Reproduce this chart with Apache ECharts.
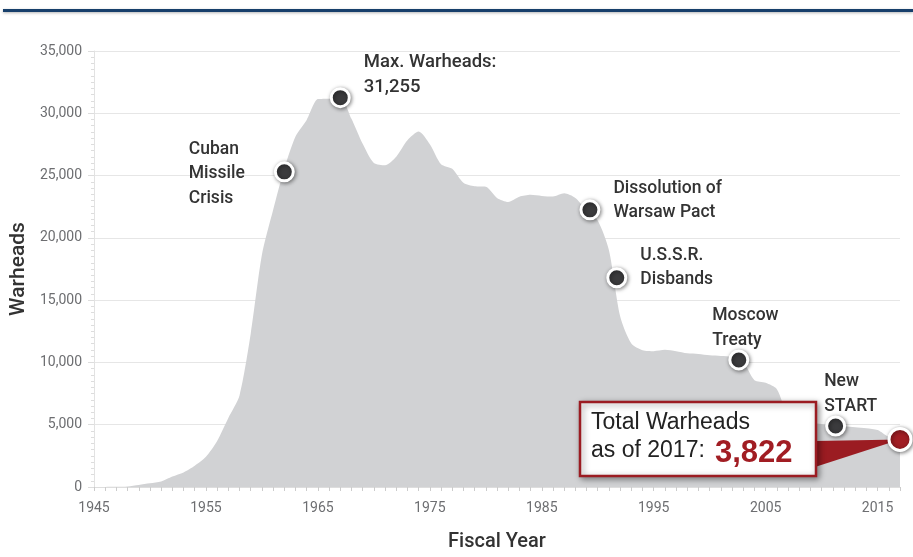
<!DOCTYPE html>
<html><head><meta charset="utf-8">
<script src="https://cdn.jsdelivr.net/npm/echarts@6/dist/echarts.min.js"></script>
<style>html,body{margin:0;padding:0;background:#fff}#c{width:913px;height:557px}</style>
</head><body><div id="c"></div>
<script>
const years = [1945,1946,1947,1948,1949,1950,1951,1952,1953,1954,1955,1956,1957,1958,1959,1960,1961,1962,1963,1964,1965,1966,1967,1968,1969,1970,1971,1972,1973,1974,1975,1976,1977,1978,1979,1980,1981,1982,1983,1984,1985,1986,1987,1988,1989,1990,1991,1992,1993,1994,1995,1996,1997,1998,1999,2000,2001,2002,2003,2004,2005,2006,2007,2008,2009,2010,2011,2012,2013,2014,2015,2016,2017];
const warheads = [2,9,13,50,170,299,438,841,1169,1703,2422,3692,5543,7345,12298,18638,22229,25540,28133,29463,31139,31175,31255,29561,27552,26008,25830,26516,27835,28537,27519,25914,25542,24418,24138,24104,23208,22886,23305,23459,23368,23317,23575,23205,22217,21392,19008,13708,11511,10979,10904,11011,10903,10732,10685,10577,10526,10457,10027,8570,8360,7853,5709,5273,5113,5066,4897,4881,4804,4717,4571,4018,3822];
const eventNames = ['Cuban\nMissile\nCrisis','Max. Warheads:\n31,255','Dissolution of\nWarsaw Pact','U.S.S.R.\nDisbands','Moscow\nTreaty','New\nSTART'];
const eventYears = [1962,1967,1989.3,1991.7,2002.6,2011.25];
const eventValues = [25300,31255,22250,16800,10200,4900];
const latestYear = 2017;
const latestValue = 3822;
const yTicks = [0,5000,10000,15000,20000,25000,30000,35000];
const xTicks = [1945,1955,1965,1975,1985,1995,2005,2015];

const NARROW = "'Liberation Sans Narrow','Roboto','Noto Sans',sans-serif";
const SANS = "'Liberation Sans','Roboto',sans-serif";
// label offsets (layout only)
const labelPos = [[-85,-24],[34,-37],[34,-23],[34,-24],[-16,-46],[-1,-46]];
const labelSizes = [17.5,18.5,17.5,17.5,17.5,17.5];

const chart = echarts.init(document.getElementById('c'));
const fmt = v => String(v).replace(/\B(?=(\d{3})+(?!\d))/g, ',');
const option = {
  animation:false,
  grid:{left:91,right:13,top:51,bottom:70,containLabel:false},
  xAxis:{type:'value',min:xTicks[0],max:latestYear,interval:xTicks[1]-xTicks[0],
    name:'Fiscal Year',nameLocation:'middle',nameGap:45,
    nameTextStyle:{fontFamily:NARROW,fontSize:20,color:'#333',fontWeight:500},
    axisLine:{show:true,lineStyle:{color:'#ddd'}},
    axisTick:{show:true,length:4,lineStyle:{color:'#ccc'}},
    minorTick:{show:true,splitNumber:10,length:4,lineStyle:{color:'#ccc'}},
    splitLine:{show:false},
    axisLabel:{showMaxLabel:false,formatter:v=>String(v),fontFamily:NARROW,fontSize:14,color:'#6d6e71',margin:14}},
  yAxis:{type:'value',min:yTicks[0],max:yTicks[yTicks.length-1],interval:yTicks[1]-yTicks[0],
    name:'Warheads',nameLocation:'middle',nameGap:62,
    nameTextStyle:{fontFamily:NARROW,fontSize:21,color:'#333',fontWeight:500},
    axisLine:{show:true,lineStyle:{color:'#e2e2e2'}},
    axisTick:{show:true,length:6,lineStyle:{color:'#ddd'}},
    minorTick:{show:true,splitNumber:10,length:3,lineStyle:{color:'#ddd'}},
    splitLine:{show:true,lineStyle:{color:'#e6e6e6'}},
    axisLabel:{formatter:fmt,fontFamily:NARROW,fontSize:14,color:'#6d6e71',margin:12}},
  series:[
    {type:'line',data:years.map((y,i)=>[y,warheads[i]]),showSymbol:false,smooth:0.25,
     lineStyle:{width:0},areaStyle:{color:'#d1d2d4',opacity:1},z:2,silent:true},
    {type:'scatter',z:5,symbolSize:18,
     itemStyle:{opacity:1,color:'#3b3b3d',borderColor:'#fff',borderWidth:3,shadowBlur:4,shadowColor:'rgba(0,0,0,0.45)',shadowOffsetX:1,shadowOffsetY:1},
     data:eventNames.map((n,i)=>({name:n,value:[eventYears[i],eventValues[i]],
       label:{show:true,position:labelPos[i],align:'left',verticalAlign:'top',formatter:'{b}',
         fontFamily:"'Roboto',sans-serif",fontWeight:500,fontSize:labelSizes[i],lineHeight:24.5,color:'#333'}}))},
    {type:'scatter',z:30,zlevel:1,symbolSize:22,
     itemStyle:{opacity:1,color:'#a11d23',borderColor:'#fff',borderWidth:3,shadowBlur:4,shadowColor:'rgba(0,0,0,0.45)',shadowOffsetX:1,shadowOffsetY:1},
     data:[[latestYear,latestValue]]}
  ]
};
chart.setOption(option);
const tip = chart.convertToPixel({gridIndex:0},[latestYear,latestValue]);
chart.setOption({graphic:[
  {type:'rect',left:3,top:9,shape:{width:910,height:3},style:{fill:'#173f6b',shadowBlur:3,shadowColor:'rgba(0,0,0,0.3)',shadowOffsetY:1},z:100},
  {type:'polygon',zlevel:1,z:10,shape:{points:[[815,441],[815,467],[tip[0],tip[1]]]},style:{fill:'#9b1c22'}},
  {type:'rect',zlevel:1,z:11,shape:{x:580,y:402,width:236,height:74},
    style:{fill:'#fff',stroke:'#9b1c22',lineWidth:2.5,shadowBlur:6,shadowColor:'rgba(0,0,0,0.4)',shadowOffsetX:2,shadowOffsetY:2}},
  {type:'text',zlevel:1,z:12,x:591,y:423,style:{text:'Total Warheads',font:"23px "+SANS,fill:'#222',textVerticalAlign:'middle'}},
  {type:'text',zlevel:1,z:12,x:591,y:451,style:{text:'as of 2017:',font:"23px "+SANS,fill:'#222',textVerticalAlign:'middle'}},
  {type:'text',zlevel:1,z:12,x:715,y:453,style:{text:fmt(latestValue),font:"bold 31px "+SANS,fill:'#a11d23',textVerticalAlign:'middle'}}
]});
</script></body></html>
